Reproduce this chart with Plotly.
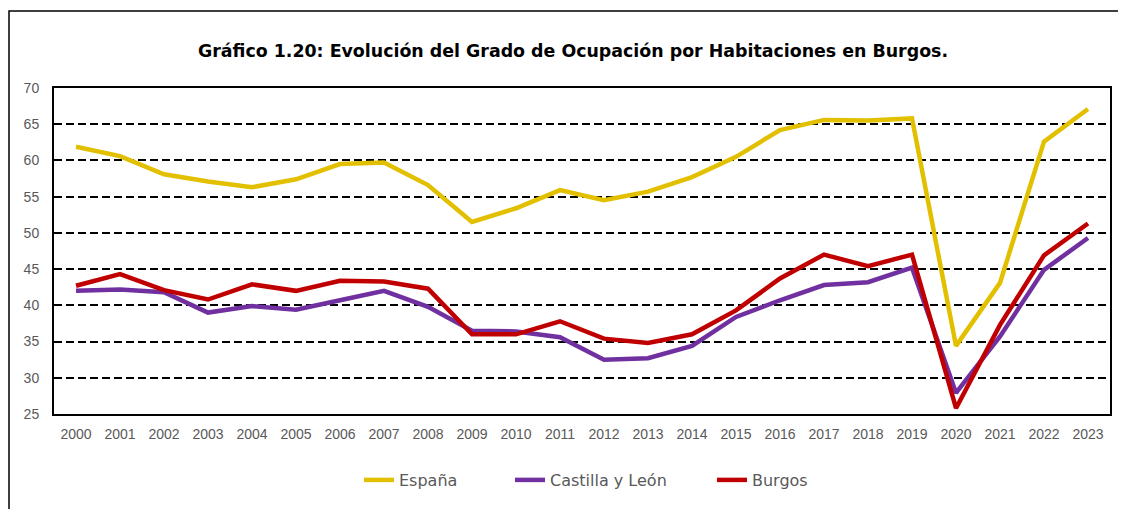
import plotly.graph_objects as go

years = [str(y) for y in range(2000, 2024)]
espana = [61.9, 60.6, 58.1, 57.1, 56.3, 57.4, 59.5, 59.7, 56.6, 51.5, 53.4, 55.9,
          54.5, 55.7, 57.7, 60.5, 64.2, 65.6, 65.5, 65.8, 34.4, 43.1, 62.6, 67.1]
cyl = [42.0, 42.2, 41.8, 39.0, 39.9, 39.4, 40.7, 42.0, 39.8, 36.5, 36.4, 35.6,
       32.5, 32.7, 34.4, 38.4, 40.7, 42.8, 43.2, 45.2, 27.9, 35.7, 44.9, 49.3]
burgos = [42.7, 44.3, 42.1, 40.8, 42.9, 42.0, 43.4, 43.3, 42.3, 36.0, 36.0, 37.8,
          35.4, 34.8, 36.0, 39.3, 43.7, 47.0, 45.4, 47.0, 25.8, 37.3, 46.9, 51.3]
y_ticks = [25, 30, 35, 40, 45, 50, 55, 60, 65, 70]
series_names = ["España", "Castilla y León", "Burgos"]
series_colors = ["#E2C000", "#7030A0", "#C00000"]

title = "Gráfico 1.20: Evolución del Grado de Ocupación por Habitaciones en Burgos."

# page body has an 8px margin, so work in shifted coordinates
OFF = 8
W, H = 1126, 509
L, R, T, B = 54 - OFF, 1126 - 1110 + OFF, 88 - OFF, 509 - 414 + OFF
pw = W - L - R
ph = H - T - B

# reference text-start positions of each legend entry (page px)
legend_text_x = [399, 550, 752]
legend_keys = ["legend", "legend2", "legend3"]

fig = go.Figure()
for name, vals, col, lk in zip(series_names, [espana, cyl, burgos], series_colors, legend_keys):
    fig.add_trace(go.Scatter(x=years, y=vals, name=name, mode="lines", legend=lk,
                             line=dict(color=col, width=4.5)))

legend_layouts = {}
for lk, tx in zip(legend_keys, legend_text_x):
    legend_layouts[lk] = dict(
        orientation="h", x=(tx - 40 - OFF) / W, xanchor="left", xref="container",
        y=1 - (480 - OFF) / H, yref="container", yanchor="middle",
        font=dict(family="DejaVu Sans", size=16, color="#595959"),
        bgcolor="rgba(0,0,0,0)", borderwidth=0)

fig.update_layout(
    width=W, height=H,
    margin=dict(l=L, r=R, t=T, b=B),
    paper_bgcolor="white", plot_bgcolor="white",
    title=dict(text="<b>" + title + "</b>", x=(573 - OFF) / W, xref="container", xanchor="center",
               y=1 - (51 - OFF) / H, yref="container", yanchor="middle",
               font=dict(family="DejaVu Sans", size=17.4, color="black")),
    showlegend=True,
    xaxis=dict(type="category", showgrid=False, showline=True, linecolor="black",
               linewidth=2, mirror=True, ticks="", zeroline=False, ticklabelstandoff=6,
               tickfont=dict(family="Liberation Sans", size=14, color="#595959"),
               range=[-0.5, 23.5]),
    yaxis=dict(range=[25, 70], tickvals=y_ticks, showgrid=True, gridcolor="black",
               griddash="8px,4px", gridwidth=2, showline=True, linecolor="black",
               linewidth=2, mirror=True, ticks="", zeroline=False, ticklabelstandoff=10,
               tickfont=dict(family="Liberation Sans", size=14, color="#595959")),
    **legend_layouts,
)

# outer chart border
fig.add_shape(type="rect", xref="paper", yref="paper",
              x0=(1 - L) / pw, x1=(1140 - OFF - L) / pw,
              y0=1 + (T - (525 - OFF)) / ph, y1=1 + (T - (11 - OFF)) / ph,
              line=dict(color="black", width=1.5), fillcolor="rgba(0,0,0,0)", layer="below")

fig.write_html("out.html")
